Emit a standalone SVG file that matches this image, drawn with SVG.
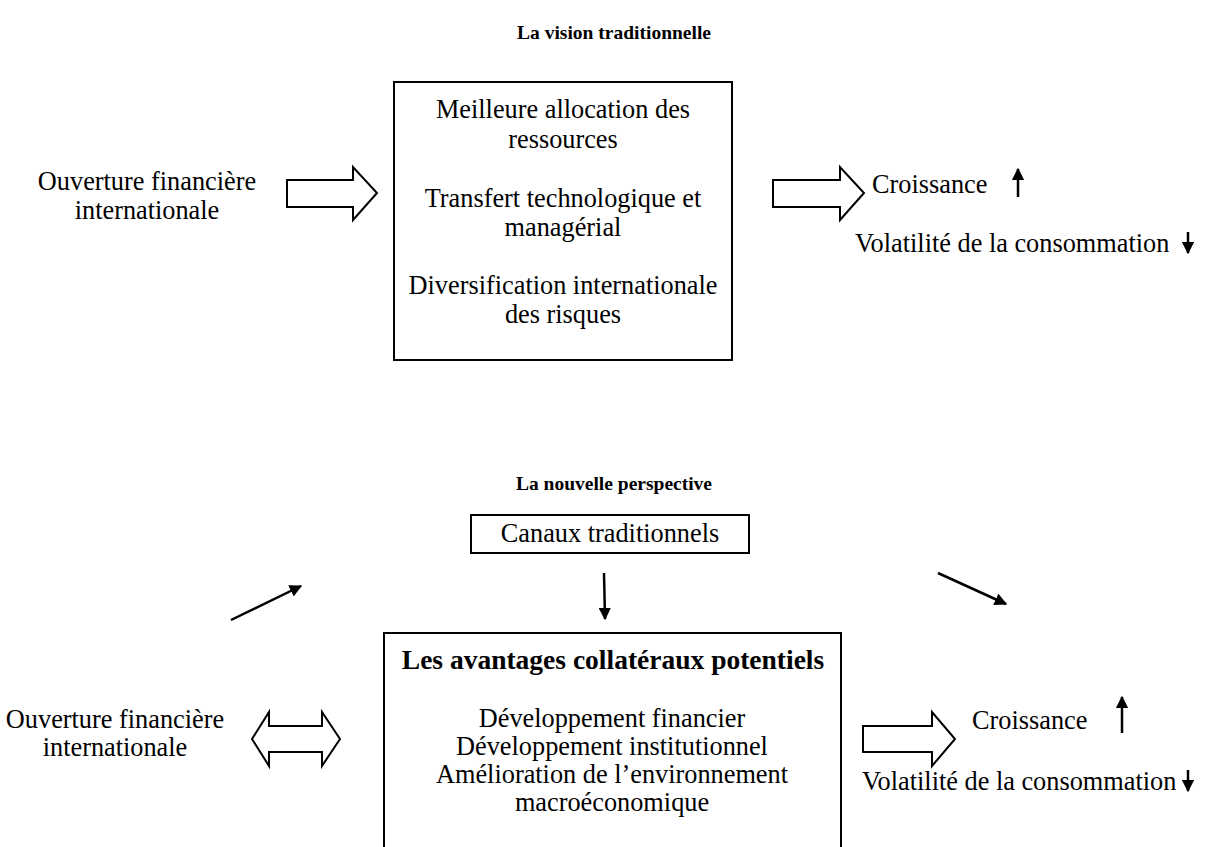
<svg xmlns="http://www.w3.org/2000/svg" width="1229" height="847" viewBox="0 0 1229 847">
<style>
text{font-family:"Liberation Serif","Times New Roman",serif;fill:#000}
.t{font-size:26.3px}
.c{text-anchor:middle}
.h{font-size:19.5px;font-weight:bold;text-anchor:middle}
.b{font-size:27.5px;font-weight:bold;text-anchor:middle}
.box{fill:#fff;stroke:#000;stroke-width:2}
.blk{fill:#fff;stroke:#000;stroke-width:2;stroke-linejoin:miter}
.ln{stroke:#000;stroke-width:2.5;fill:none}
</style>
<defs>
<marker id="ah" viewBox="0 0 10 10" refX="9" refY="5" markerWidth="5" markerHeight="5" orient="auto" markerUnits="strokeWidth">
<path d="M0,0 L10,5 L0,10 z" fill="#000"/>
</marker>
</defs>
<rect width="1229" height="847" fill="#fff"/>

<text class="h" x="614" y="39">La vision traditionnelle</text>
<text class="h" x="614" y="490">La nouvelle perspective</text>

<g id="top-left-label">
<text class="t c" x="147" y="190">Ouverture financière</text>
<text class="t c" x="147" y="219">internationale</text>
</g>

<g id="top-box">
<rect class="box" x="394" y="82" width="338" height="278"/>
<text class="t c" x="563" y="118">Meilleure allocation des</text>
<text class="t c" x="563" y="148">ressources</text>
<text class="t c" x="563" y="207">Transfert technologique et</text>
<text class="t c" x="563" y="236">managérial</text>
<text class="t c" x="563" y="294">Diversification internationale</text>
<text class="t c" x="563" y="323">des risques</text>
</g>

<g id="top-result">
<text class="t" x="872" y="193">Croissance</text>
<text class="t" x="855" y="252">Volatilité de la consommation</text>
</g>

<g id="bottom-left-label">
<text class="t c" x="115" y="728">Ouverture financière</text>
<text class="t c" x="115" y="756">internationale</text>
</g>

<g id="canaux-box">
<rect class="box" x="471" y="515" width="278" height="38"/>
<text class="t c" x="610" y="542">Canaux traditionnels</text>
</g>

<g id="bottom-box">
<rect class="box" x="384" y="633" width="457" height="240"/>
<text class="b" x="613" y="669">Les avantages collatéraux potentiels</text>
<text class="t c" x="612" y="727">Développement financier</text>
<text class="t c" x="612" y="755">Développement institutionnel</text>
<text class="t c" x="612" y="783">Amélioration de l’environnement</text>
<text class="t c" x="612" y="811">macroéconomique</text>
</g>

<g id="bottom-result">
<text class="t" x="972" y="729">Croissance</text>
<text class="t" x="862" y="790">Volatilité de la consommation</text>
</g>

<g id="connectors">
<path class="blk" d="M287,180 L353,180 L353,167 L377,193 L353,220 L353,207 L287,207 Z"/>
<path class="blk" d="M773,180 L840,180 L840,167 L864,193 L840,220 L840,207 L773,207 Z"/>
<path class="blk" d="M252,739 L269,712 L269,726 L322,726 L322,712 L340,739 L322,766 L322,752 L269,752 L269,766 Z"/>
<path class="blk" d="M863,726 L932,726 L932,712 L955,739 L932,766 L932,752 L863,752 Z"/>
<line class="ln" x1="1018" y1="197" x2="1018" y2="169" marker-end="url(#ah)"/>
<line class="ln" x1="1188" y1="232" x2="1188" y2="253" marker-end="url(#ah)"/>
<line class="ln" x1="1122" y1="733" x2="1122" y2="697" marker-end="url(#ah)"/>
<line class="ln" x1="1188" y1="770" x2="1188" y2="791" marker-end="url(#ah)"/>
<line class="ln" x1="604" y1="573" x2="605" y2="619" marker-end="url(#ah)"/>
<line class="ln" x1="231" y1="620" x2="301" y2="586" marker-end="url(#ah)"/>
<line class="ln" x1="938" y1="573" x2="1006" y2="604" marker-end="url(#ah)"/>
</g>
</svg>
